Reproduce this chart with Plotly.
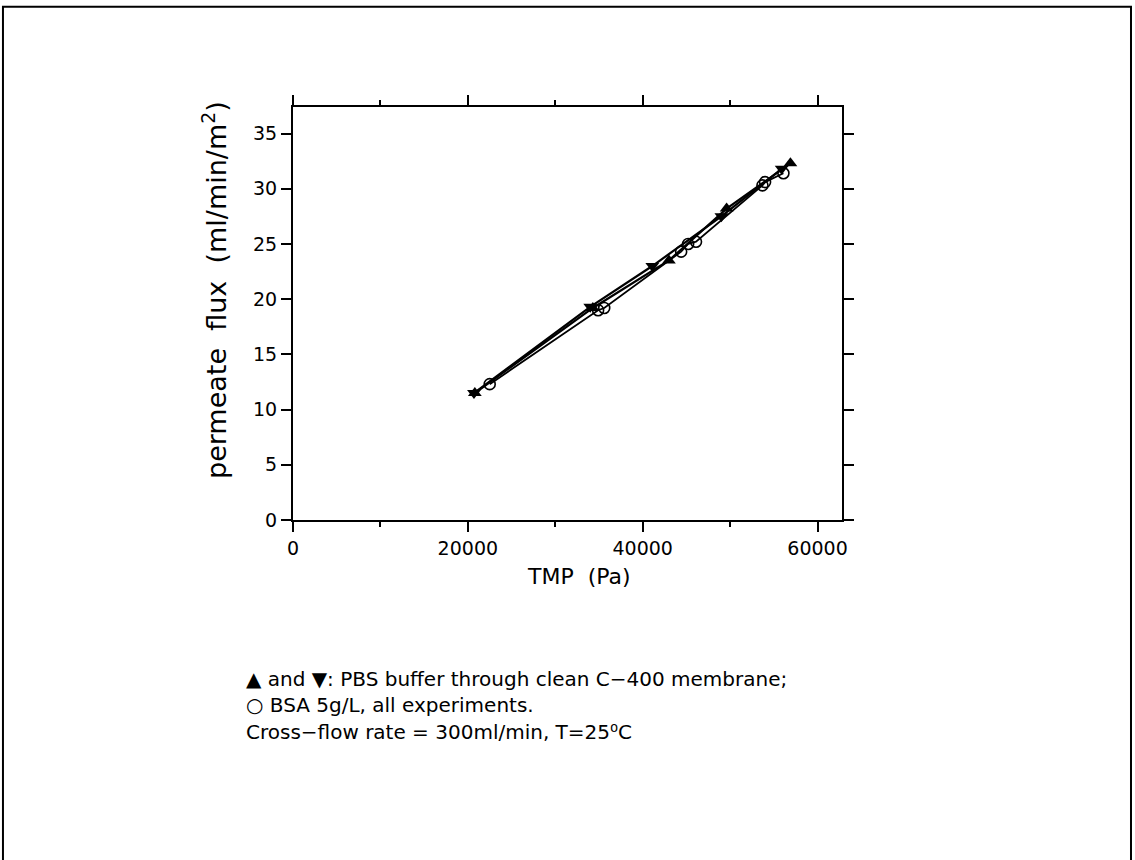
import plotly.graph_objects as go

# Data
up_tmp = [20800, 34300, 43000, 49600, 56900]
up_flux = [11.5, 19.2, 23.5, 28.2, 32.3]

down_tmp = [20700, 34000, 41100, 49000, 55900]
down_flux = [11.5, 19.3, 23.0, 27.5, 31.8]

bsa_tmp = [22500, 34900, 35600, 44400, 45200, 46100, 53700, 54000, 56100]
bsa_flux = [12.3, 19.0, 19.2, 24.3, 25.0, 25.2, 30.3, 30.6, 31.4]

x_ticks = [0, 20000, 40000, 60000]
y_ticks = [0, 5, 10, 15, 20, 25, 30, 35]

x_title = "TMP  (Pa)"
y_title = "permeate  flux  (ml/min/m<sup>2</sup>)"
notes = [
    "\u25B2 and \u25BC: PBS buffer through clean C\u2212400 membrane;",
    "\u25CB BSA 5g/L, all experiments.",
    "Cross\u2212flow rate = 300ml/min, T=25\u2070C",
]

FONT = "DejaVu Sans"

fig = go.Figure()
fig.add_trace(go.Scatter(x=bsa_tmp, y=bsa_flux, mode="lines+markers",
                         line=dict(color="black", width=1.8),
                         marker=dict(symbol="circle-open", size=11, color="black",
                                     line=dict(width=1.6))))
fig.add_trace(go.Scatter(x=up_tmp, y=up_flux, mode="lines+markers",
                         line=dict(color="black", width=2.2),
                         marker=dict(symbol="triangle-up", size=12, color="black")))
fig.add_trace(go.Scatter(x=down_tmp, y=down_flux, mode="lines+markers",
                         line=dict(color="black", width=2.2),
                         marker=dict(symbol="triangle-down", size=12, color="black")))

axis_common = dict(showline=True, linecolor="black", linewidth=2, mirror="allticks",
                   ticks="outside", ticklen=10, tickwidth=1.5, tickcolor="black",
                   showgrid=False, zeroline=False,
                   tickfont=dict(family=FONT, size=19, color="black"))

fig.update_xaxes(range=[0, 62800], tickvals=x_ticks, ticktext=[str(v) for v in x_ticks],
                 minor=dict(tickvals=[10000, 30000, 50000], ticklen=5, tickwidth=1.5,
                            tickcolor="black", ticks="outside"),
                 **axis_common)
fig.update_yaxes(range=[0, 37.4], tickvals=y_ticks, ticktext=[str(v) for v in y_ticks],
                 **axis_common)

fig.add_annotation(text=x_title, xref="paper", yref="paper", x=0.521, y=-0.138,
                   xanchor="center", yanchor="middle", showarrow=False,
                   font=dict(family=FONT, size=22, color="black"))
fig.add_annotation(text=y_title, xref="paper", yref="paper", x=-0.142, y=0.557,
                   xanchor="center", yanchor="middle", showarrow=False, textangle=-90,
                   font=dict(family=FONT, size=27, color="black"))

for i, t in enumerate(notes):
    fig.add_annotation(text=t, xref="paper", yref="paper", x=-0.089, y=-0.385 - i * 0.064,
                       xanchor="left", yanchor="middle", showarrow=False,
                       font=dict(family=FONT, size=20, color="black"))

fig.add_shape(type="rect", xref="paper", yref="paper",
              x0=-0.5283, x1=1.5264, y0=-0.95, y1=1.2425,
              line=dict(color="black", width=2))

fig.update_layout(width=1135, height=860, showlegend=False,
                  margin=dict(l=293, r=293, t=107, b=340),
                  plot_bgcolor="white", paper_bgcolor="white")

fig.write_html("out.html")
